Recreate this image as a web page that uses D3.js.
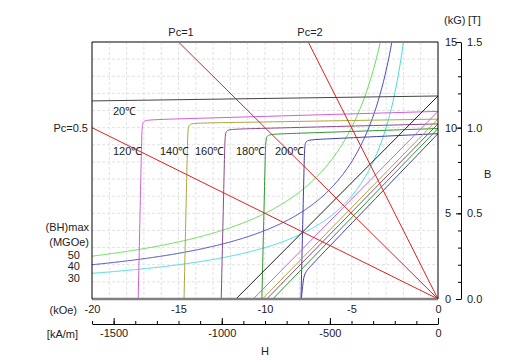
<!DOCTYPE html>
<html>
<head>
<meta charset="utf-8">
<script src="https://cdn.jsdelivr.net/npm/d3@7"></script>
<style>
  body { margin: 0; background: #fff; }
  svg { font-family: "Liberation Sans", Arial, sans-serif; }
  .lbl { font-size: 11px; fill: #222; }
</style>
</head>
<body>
<svg id="chart" width="509" height="360"></svg>
<script>
// demagnetization curves, H in kOe, B / J in kG
var temps = ["20℃", "120℃", "140℃", "160℃", "180℃", "200℃"];
var tempColors = ["#444444", "#d060d8", "#a8a840", "#8a4a8a", "#2f962f", "#4040a8"];

var jCurve20  = [[0, 11.85], [-20, 11.56]];
var jCurve120 = [[0, 10.95], [-16.5, 10.47], [-17.1, 10.45], [-17.12, 9.85], [-17.33, 0]];
var jCurve140 = [[0, 10.5], [-13.85, 10.27], [-14.45, 10.26], [-14.47, 9.66], [-14.68, 0]];
var jCurve160 = [[0, 10.22], [-11.7, 9.92], [-12.3, 9.9], [-12.32, 9.3], [-12.53, 0]];
var jCurve180 = [[0, 9.95], [-9.35, 9.63], [-9.95, 9.61], [-9.97, 9.0], [-10.18, 0]];
var jCurve200 = [[0, 9.65], [-7.1, 9.31], [-7.7, 9.28], [-7.72, 8.7], [-7.92, 0]];

var bCurve20  = [[0, 11.85], [-11.68, 0]];
var bCurve120 = [[0, 10.95], [-10.68, 0]];
var bCurve140 = [[0, 10.5], [-10.15, 0]];
var bCurve160 = [[0, 10.22], [-9.9, 0]];
var bCurve180 = [[0, 9.95], [-9.55, 0]];
var bCurve200 = [[0, 9.65], [-7.2, 2.1], [-7.72, 1.55], [-7.8, 1.0], [-7.9, 0]];

var jCurves = [jCurve20, jCurve120, jCurve140, jCurve160, jCurve180, jCurve200];
var bCurves = [bCurve20, bCurve120, bCurve140, bCurve160, bCurve180, bCurve200];

var bhMax = [50, 40, 30];              // MGOe
var bhColors = ["#66dd55", "#4848cc", "#48dcdc"];
var pcValues = [0.5, 1, 2];

var hTicks = [-20, -15, -10, -5, 0];
var kamTicks = [-1500, -1000, -500, 0];
var kgTicks = [0, 5, 10, 15];
var tTicks = [0, 0.5, 1.0, 1.5];

var svg = d3.select("#chart");
// note: "top" is a reserved window prop, so plotTop etc.
var plotLeft = 92, plotRight = 438, plotTop = 42, plotBottom = 299;

var x = d3.scaleLinear().domain([-20, 0]).range([plotLeft, plotRight]);
var y = d3.scaleLinear().domain([0, 15]).range([plotBottom, plotTop]);
var xKam = d3.scaleLinear().domain([-1600, 0]).range([plotLeft, plotRight]);
var yT = d3.scaleLinear().domain([0, 1.5]).range([plotBottom, plotTop]);

svg.append("clipPath").attr("id", "plotClip")
  .append("rect").attr("x", plotLeft).attr("y", plotTop)
  .attr("width", plotRight - plotLeft).attr("height", plotBottom - plotTop);

// grid
var grid = svg.append("g");
grid.selectAll("line.v").data(d3.range(-19, 0)).enter().append("line")
  .attr("class", "v")
  .attr("x1", function (d) { return x(d); }).attr("x2", function (d) { return x(d); })
  .attr("y1", plotTop).attr("y2", plotBottom)
  .attr("stroke", "#e2e2e2").attr("stroke-dasharray", "3,2");
grid.selectAll("line.h").data(d3.range(1, 15)).enter().append("line")
  .attr("class", "h")
  .attr("y1", function (d) { return y(d); }).attr("y2", function (d) { return y(d); })
  .attr("x1", plotLeft).attr("x2", plotRight)
  .attr("stroke", "#e2e2e2").attr("stroke-dasharray", "3,2");

var plot = svg.append("g").attr("clip-path", "url(#plotClip)");

var line = d3.line()
  .x(function (d) { return x(d[0]); })
  .y(function (d) { return y(d[1]); })
  .curve(d3.curveBasis);

// (BH)max hyperbolas  B = BH / |H|
bhMax.forEach(function (bh, i) {
  var hStart = -bh / 15;
  var pts = d3.range(-20, hStart, 0.05).concat([hStart]).map(function (h) { return [h, -bh / h]; });
  plot.append("path")
    .attr("d", d3.line().x(function (d) { return x(d[0]); }).y(function (d) { return y(d[1]); })(pts))
    .attr("fill", "none").attr("stroke", bhColors[i]).attr("stroke-width", 1);
});

// demag curves
jCurves.forEach(function (c, i) {
  plot.append("path").attr("d", line(c))
    .attr("fill", "none").attr("stroke", tempColors[i]).attr("stroke-width", 1);
});
bCurves.forEach(function (c, i) {
  plot.append("path").attr("d", line(c))
    .attr("fill", "none").attr("stroke", i === 0 ? "#222" : tempColors[i]).attr("stroke-width", 1);
});

// permeance lines
pcValues.forEach(function (pc) {
  var hEnd = Math.max(-20, -15 / pc);
  plot.append("line")
    .attr("x1", x(0)).attr("y1", y(0))
    .attr("x2", x(hEnd)).attr("y2", y(-pc * hEnd))
    .attr("stroke", "#dd2020").attr("stroke-width", 1);
});

// frame
svg.append("line").attr("x1", plotLeft).attr("x2", plotRight).attr("y1", plotTop).attr("y2", plotTop)
  .attr("stroke", "#808080").attr("stroke-width", 2);
svg.append("line").attr("x1", plotLeft).attr("x2", plotRight).attr("y1", plotBottom).attr("y2", plotBottom)
  .attr("stroke", "#808080").attr("stroke-width", 2.5);
svg.append("line").attr("x1", plotLeft).attr("x2", plotLeft).attr("y1", plotTop).attr("y2", plotBottom)
  .attr("stroke", "#000");
svg.append("line").attr("x1", plotRight).attr("x2", plotRight).attr("y1", plotTop).attr("y2", plotBottom)
  .attr("stroke", "#000");

// H axis (kOe)
var hAxis = svg.append("g").attr("transform", "translate(0," + (plotBottom + 2) + ")")
  .call(d3.axisBottom(x).tickValues(hTicks).tickSize(0).tickPadding(4)
    .tickFormat(function (d) { return String(d); }));
hAxis.select(".domain").remove();

// H axis (kA/m)
var kamY = 324;
svg.append("g").attr("transform", "translate(0," + kamY + ")")
  .call(d3.axisBottom(xKam).tickValues(d3.range(-1600, 1, 100)).tickSizeInner(-3).tickSizeOuter(0)
    .tickFormat(""));
svg.append("g").attr("transform", "translate(0," + kamY + ")")
  .call(d3.axisBottom(xKam).tickValues(kamTicks).tickSizeInner(-6).tickSizeOuter(0).tickPadding(5)
    .tickFormat(function (d) { return String(d); }))
  .select(".domain").remove();

// B axis (kG and T)
var bX = 461;
svg.append("g").attr("transform", "translate(" + bX + ",0)")
  .call(d3.axisLeft(y).tickValues(d3.range(0, 16)).tickSizeInner(3).tickSizeOuter(0).tickFormat(""));
svg.append("g").attr("transform", "translate(" + bX + ",0)")
  .call(d3.axisLeft(y).tickValues(kgTicks).tickSizeInner(5).tickSizeOuter(0)
    .tickFormat(function (d) { return String(d); }))
  .call(function (g) {
    g.select(".domain").remove();
    g.selectAll("text").attr("text-anchor", "start").attr("x", -16);
  });
var tAxis = svg.append("g").attr("transform", "translate(" + bX + ",0)")
  .call(d3.axisRight(yT).tickValues(tTicks).tickSize(0).tickPadding(6)
    .tickFormat(d3.format(".1f")));
tAxis.select(".domain").remove();

svg.selectAll(".tick text").attr("font-size", 11).attr("fill", "#222")
  .attr("font-family", "'Liberation Sans', Arial, sans-serif");

// texts
function label(t, xPos, yPos, anchor, size) {
  svg.append("text").attr("class", "lbl").attr("x", xPos).attr("y", yPos)
    .attr("text-anchor", anchor || "start").attr("font-size", size || 11).text(t);
}
label("(kG)", 444, 24);
label("[T]", 468, 24);
label("B", 484, 178, "start", 13);
label("H", 261, 355, "start", 13);
label("(kOe)", 77, 314, "end");
label("[kA/m]", 78, 338, "end");
label("Pc=1", 181, 36, "middle");
label("Pc=2", 310, 36, "middle");
label("Pc=0.5", 88, 132, "end");
label("(BH)max", 89, 231, "end", 9);
label("(MGOe)", 89, 246, "end", 9);
label("50", 80, 259, "end", 11);
label("40", 80, 270, "end", 11);
label("30", 80, 282, "end", 11);

var tempLabelPos = [[113, 115], [113, 155], [160, 155], [195, 155], [236, 155], [275, 155]];
temps.forEach(function (t, i) {
  label(t, tempLabelPos[i][0], tempLabelPos[i][1], "start", 11);
});
</script>
</body>
</html>
